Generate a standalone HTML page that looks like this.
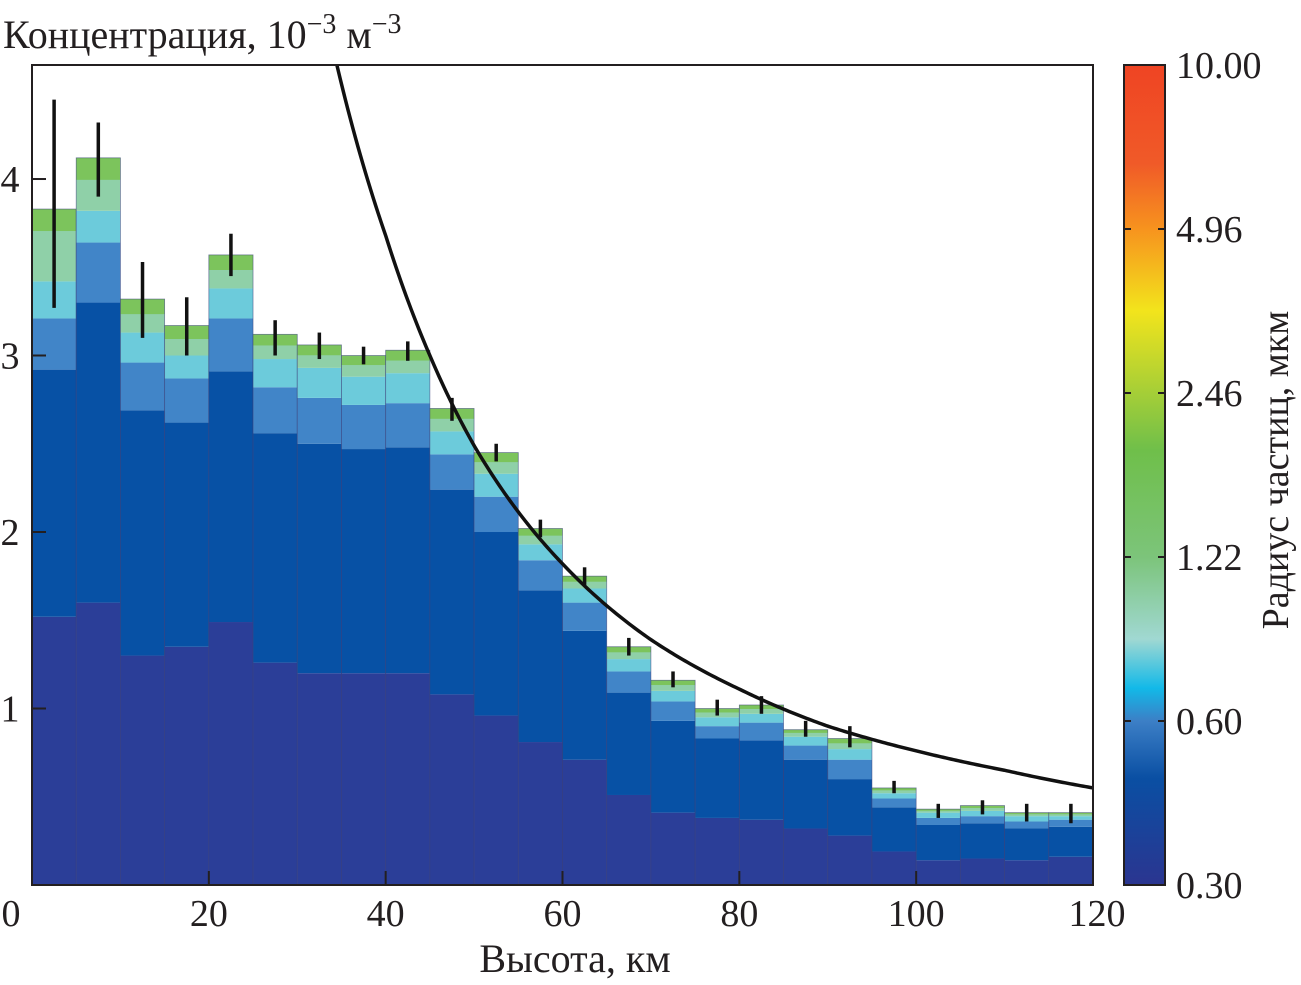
<!DOCTYPE html>
<html><head><meta charset="utf-8"><style>
html,body{margin:0;padding:0;background:#fff}
svg{display:block}
text{font-family:"Liberation Serif","Times New Roman","DejaVu Serif",serif;fill:#231f20}
</style></head><body>
<svg id="chart" width="1301" height="985" viewBox="0 0 1301 985" xmlns="http://www.w3.org/2000/svg" font-family="Liberation Serif, Times New Roman, serif">
<defs>
<linearGradient id="cbar" x1="0" y1="1" x2="0" y2="0">
<stop offset="0" stop-color="#2b3590"/>
<stop offset="0.13" stop-color="#0a4fa3"/>
<stop offset="0.2" stop-color="#3c7fc6"/>
<stop offset="0.24" stop-color="#12b9e8"/>
<stop offset="0.3" stop-color="#a0d8d2"/>
<stop offset="0.4" stop-color="#7cc47a"/>
<stop offset="0.53" stop-color="#6fbf4a"/>
<stop offset="0.7" stop-color="#f2e41c"/>
<stop offset="0.8" stop-color="#f7931e"/>
<stop offset="0.88" stop-color="#f05a28"/>
<stop offset="1" stop-color="#ef4423"/>
</linearGradient>
<clipPath id="plotclip"><rect x="32" y="65" width="1061" height="820"/></clipPath>
</defs>
<g id="bars"></g>
<path id="curve" fill="none" stroke="#111" stroke-width="3.5" clip-path="url(#plotclip)"/>
<g id="errs"></g>
<rect x="32" y="65" width="1061" height="820" fill="none" stroke="#231f20" stroke-width="2"/>
<g id="axes"></g>
<text x="3" y="48" font-size="40">Концентрация, 10<tspan dy="-15" font-size="28">−3</tspan><tspan dy="15"> м</tspan><tspan dy="-15" font-size="28">−3</tspan></text>
<text x="575" y="972" font-size="40" text-anchor="middle">Высота, км</text>
<rect x="1124" y="65" width="41" height="820" fill="url(#cbar)" stroke="#231f20" stroke-width="2"/>
<g id="cticks"></g>
<text transform="translate(1288,470) rotate(-90)" font-size="38" text-anchor="middle">Радиус частиц, мкм</text>
</svg>
<script>
const binStart = [0,5,10,15,20,25,30,35,40,45,50,55,60,65,70,75,80,85,90,95,100,105,110,115];
const layerDark = [1.52,1.6,1.3,1.35,1.49,1.26,1.2,1.2,1.2,1.08,0.96,0.81,0.71,0.51,0.41,0.38,0.37,0.32,0.28,0.19,0.14,0.15,0.14,0.16];
const layerBlue = [2.92,3.30,2.69,2.62,2.91,2.56,2.5,2.47,2.48,2.24,2.0,1.67,1.44,1.09,0.93,0.83,0.82,0.71,0.6,0.44,0.34,0.35,0.32,0.33];
const layerMid = [3.21,3.64,2.96,2.87,3.21,2.82,2.76,2.72,2.73,2.44,2.2,1.84,1.6,1.21,1.04,0.9,0.92,0.79,0.71,0.49,0.38,0.39,0.36,0.37];
const layerCyan = [3.42,3.82,3.13,3.0,3.38,2.98,2.93,2.88,2.9,2.57,2.33,1.93,1.68,1.28,1.1,0.95,0.97,0.84,0.77,0.52,0.41,0.42,0.39,0.39];
const totals = [3.83,4.12,3.32,3.17,3.57,3.12,3.06,3.0,3.03,2.7,2.45,2.02,1.75,1.35,1.16,1.0,1.02,0.88,0.83,0.55,0.43,0.45,0.41,0.41];
const errLow = [3.27,3.9,3.1,3.0,3.45,3.0,2.98,2.95,2.97,2.63,2.4,1.97,1.7,1.3,1.12,0.96,0.97,0.84,0.78,0.52,0.38,0.4,0.36,0.35];
const errHigh = [4.45,4.32,3.53,3.33,3.69,3.2,3.13,3.05,3.08,2.76,2.5,2.07,1.8,1.4,1.21,1.05,1.07,0.93,0.9,0.59,0.46,0.48,0.46,0.46];
const curveX = [34,40,45,50,60,70,80,90,100,110,120];
const curveY = [4.75,3.68,3.0,2.49,1.82,1.39,1.11,0.9,0.76,0.65,0.55];
const xTicks = [0,20,40,60,80,100,120];
const yTicks = [1,2,3,4];
const cTickLabels = ["0.30","0.60","1.22","2.46","4.96","10.00"];
const binWidth = 5;

const NS="http://www.w3.org/2000/svg";
const X0=32,X1=1093,Y0=885,Y1=65,XMAX=120,YMAX=4.646;
const sx=v=>X0+(v/XMAX)*(X1-X0);
const sy=v=>Y0-(v/YMAX)*(Y0-Y1);
function mk(tag,attrs,parent){const e=document.createElementNS(NS,tag);for(const k in attrs)e.setAttribute(k,attrs[k]);parent.appendChild(e);return e;}
const bars=document.getElementById('bars');
const layerColors=['#2b3e98','#0751a5','#4185c8','#6ccbdb','#8fd0a8'];
binStart.forEach((b,i)=>{
  const bounds=[0,layerDark[i],layerBlue[i],layerMid[i],layerCyan[i],totals[i]];
  const x=sx(b),w=sx(b+binWidth)-x;
  for(let k=0;k<5;k++){
    const r=mk('rect',{x:x,y:sy(bounds[k+1]),width:w,height:sy(bounds[k])-sy(bounds[k+1]),fill:layerColors[k]},bars);
    
    
  }
  const topH=sy(layerCyan[i])-sy(totals[i]);
  const g=mk('rect',{x:x,y:sy(totals[i]),width:w,height:Math.min(topH*0.45,22),fill:'#7cc45c'},bars);
  
  
  const o=mk('rect',{x:x,y:sy(totals[i]),width:w,height:sy(0)-sy(totals[i]),fill:'none',stroke:'#3a3f7a','stroke-width':0.8,'stroke-opacity':0.6},bars);
  
  
});
const errs=document.getElementById('errs');
binStart.forEach((b,i)=>{
  const cx=sx(b+binWidth/2);
  const l=mk('line',{x1:cx,x2:cx,y1:sy(errLow[i]),y2:sy(errHigh[i]),stroke:'#111','stroke-width':3.5},errs);
  
  
});
// curve: interpolate in log-log space between read points, sampled densely
const lx=curveX.map(Math.log), ly=curveY.map(Math.log);
function curveAt(x){
  const L=Math.log(x);
  let i=0; while(i<lx.length-2 && L>lx[i+1]) i++;
  const t=(L-lx[i])/(lx[i+1]-lx[i]);
  return Math.exp(ly[i]+t*(ly[i+1]-ly[i]));
}
let d='';
const N=300;
for(let k=0;k<=N;k++){
  const x=curveX[0]+(curveX[curveX.length-1]-curveX[0])*k/N;
  d+=(k?'L':'M')+sx(x).toFixed(2)+','+sy(curveAt(x)).toFixed(2);
}
document.getElementById('curve').setAttribute('d',d);
const axes=document.getElementById('axes');
xTicks.forEach(t=>{
  const x=sx(t);
  if(t>0&&t<120){const l=mk('line',{x1:x,x2:x,y1:Y0,y2:Y0-14,stroke:'#231f20','stroke-width':2},axes);
  
  }
  const lxp=t===0?11:(t===120?1097:x);
  const tx=mk('text',{x:lxp,y:926,'font-size':38,'text-anchor':'middle'},axes);
  tx.textContent=t;
  
  
});
yTicks.forEach(t=>{
  const y=sy(t);
  const l=mk('line',{x1:X0,x2:X0+14,y1:y,y2:y,stroke:'#231f20','stroke-width':2},axes);
  
  
  const tx=mk('text',{x:10,y:y+13,'font-size':38,'text-anchor':'middle'},axes);
  tx.textContent=t;
  
  
});
const ct=document.getElementById('cticks');
cTickLabels.forEach((lab,i)=>{
  const y=885-i*164;
  if(i>0&&i<5){
    const a=mk('line',{x1:1124,x2:1131,y1:y,y2:y,stroke:'#231f20','stroke-width':2},ct);
    
    
    const b=mk('line',{x1:1158,x2:1165,y1:y,y2:y,stroke:'#231f20','stroke-width':2},ct);
    
    
  }
  const tx=mk('text',{x:1176,y:y+13,'font-size':38},ct);
  tx.textContent=lab;
  
  
});
</script>
</body></html>
